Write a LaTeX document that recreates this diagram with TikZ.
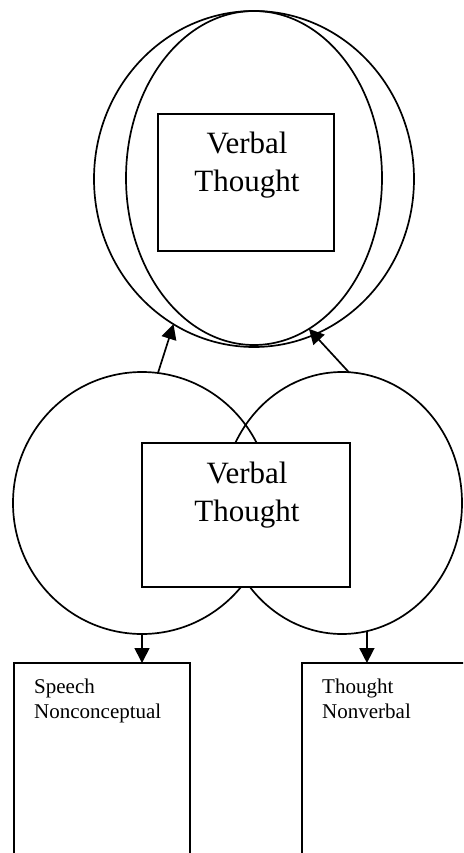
\documentclass[tikz,border=0pt]{standalone}
\usepackage{fontspec}
\setmainfont{Liberation Serif}
\usetikzlibrary{shapes.geometric,arrows.meta}
\tikzset{
  ln/.style={line width=1.7pt},
  oval/.style={ln, draw, ellipse, inner sep=0pt, outer sep=0pt},
  box/.style={ln, draw, rectangle, inner sep=0pt, outer sep=0pt},
  bigtxt/.style={font=\fontsize{31}{37}\selectfont, inner sep=0pt},
  smalltxt/.style={font=\fontsize{21}{25}\selectfont, inner sep=0pt},
  arr/.style={ln, -{Triangle[length=15pt,width=15pt]}}
}
\begin{document}
\begin{tikzpicture}[x=1pt,y=1pt]
\useasboundingbox (0,0) rectangle (463,-853);
\clip (0,0) rectangle (463,-853);
% top group
\node[oval, minimum width=320pt, minimum height=336pt] (outer) at (254,-179) {};
\node[oval, minimum width=256pt, minimum height=334pt] (inner) at (254,-178) {};
\node[box, minimum width=176pt, minimum height=137pt] (topbox) at (246,-182.5) {};
\node[bigtxt, anchor=base] (topv) at (247,-154) {Verbal};
\node[bigtxt, anchor=base] (topt) at (247,-191) {Thought};
% middle group
\node[oval, minimum width=258pt, minimum height=262pt] (lc) at (142,-503) {};
\node[oval, minimum width=240pt, minimum height=262pt] (rc) at (342,-503) {};
\node[box, fill=white, minimum width=208pt, minimum height=144pt] (midbox) at (246,-515) {};
\node[bigtxt, anchor=base] (midv) at (247,-483) {Verbal};
\node[bigtxt, anchor=base] (midt) at (247,-521) {Thought};
% bottom boxes
\node[box, minimum width=176pt, minimum height=240pt, anchor=north west] (lbox) at (14,-663) {};
\node[box, minimum width=190pt, minimum height=240pt, anchor=north west] (rbox) at (302,-663) {};
\node[smalltxt, anchor=base west] (ltxt) at (34,-693) {Speech};
\node[smalltxt, anchor=base west] (ltxt2) at (34,-718) {Nonconceptual};
\node[smalltxt, anchor=base west] (rtxt) at (322,-693) {Thought};
\node[smalltxt, anchor=base west] (rtxt2) at (322,-718) {Nonverbal};
% connectors
\draw[arr] (lc.83.5) -- (outer.241);
\draw[arr] (rc.87) -- (inner.290);
\draw[arr] (lc.south) -- (lc.south |- lbox.north);
\draw[arr] (rc.-79.4) -- (rc.-79.4 |- rbox.north);
\end{tikzpicture}
\end{document}
